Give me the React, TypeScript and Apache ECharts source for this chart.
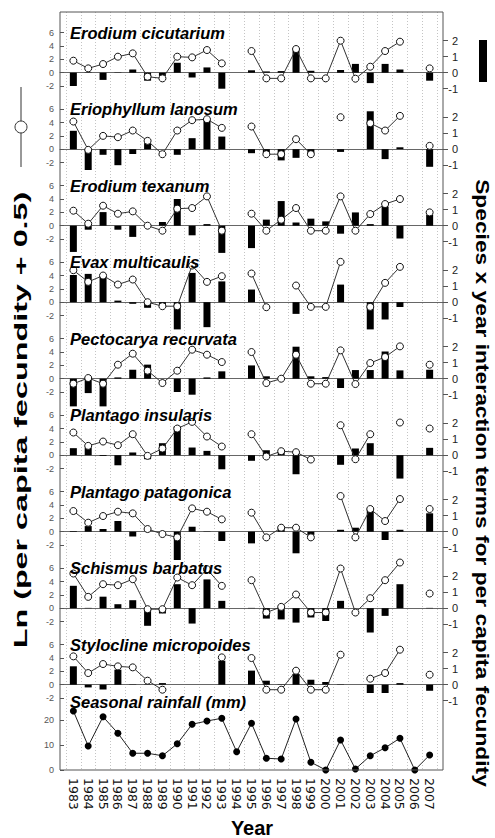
import React, { useEffect, useRef } from "react";
import * as echarts from "echarts";

const years = [1983, 1984, 1985, 1986, 1987, 1988, 1989, 1990, 1991, 1992, 1993, 1994, 1995, 1996, 1997, 1998, 1999, 2000, 2001, 2002, 2003, 2004, 2005, 2006, 2007];

const speciesNames = ["Erodium cicutarium", "Eriophyllum lanosum", "Erodium texanum", "Evax multicaulis", "Pectocarya recurvata", "Plantago insularis", "Plantago patagonica", "Schismus barbatus", "Stylocline micropoides"];

// Ln (per capita fecundity + 0.5), null = no data
const fecErodiumCicutarium = [1.8, 0.65, 1.3, 2.4, 2.9, -0.6, -0.85, 2.4, 2.3, 3.4, 1.4, null, 3.25, -0.85, -0.85, 3.55, -0.85, -0.85, 4.8, -0.9, 0.9, 3.25, 4.65, null, 0.65];
const fecEriophyllumLanosum = [4.15, -0.1, 2.0, 1.8, 2.8, 1.25, -0.75, 2.8, 4.35, 4.5, 3.2, null, 3.4, -0.75, -0.75, 1.5, -0.75, null, 4.8, null, 3.9, 2.8, 5.0, null, 0.5];
const fecErodiumTexanum = [2.25, 0.3, 3.0, 1.8, 2.15, 0, -0.75, 2.55, 2.65, 4.4, -0.75, null, 1.8, -0.75, 0.9, 2.65, -0.75, -0.75, 4.4, -0.75, 1.75, 3.25, 4.0, null, 2.0];
const fecEvaxMulticaulis = [4.8, 3.05, 4.0, 2.65, 3.4, 0, -0.6, -0.6, 5.5, 3.05, 3.9, null, 4.3, -0.75, null, 2.5, -0.7, -0.7, 6.05, null, -0.7, 2.9, 5.3, null, null];
const fecPectocaryaRecurvata = [-0.75, 0.1, -0.75, 2.1, 3.75, 1.2, -0.65, 1.2, 4.35, 3.6, 2.5, null, 4.0, -0.65, 0, 3.6, -0.75, -0.75, 4.25, -0.8, 2.35, 3.25, 4.85, null, 2.1];
const fecPlantagoInsularis = [3.4, 1.4, 2.05, 1.5, 3.15, -0.1, 1.0, 4.0, 5.0, 2.8, 1.3, null, 3.15, -0.2, 0.6, 0.45, -0.65, null, 4.5, -0.6, 3.15, null, 4.9, null, 4.0];
const fecPlantagoPatagonica = [3.1, 1.35, 2.35, 3.0, 2.75, 0.4, -0.35, -0.85, 3.5, 3.0, 1.85, null, 2.85, -0.85, 0.6, 0.6, -0.85, null, 5.35, -0.85, 3.4, 1.6, 4.9, null, 3.4];
const fecSchismusBarbatus = [5.2, 1.7, 3.6, 3.45, 4.35, -0.15, -0.15, 4.6, 3.45, 5.85, 3.35, null, 4.2, -0.65, 0.2, 2.05, -0.65, -0.65, 5.95, -0.65, 1.5, 4.2, 6.85, null, 2.2];
const fecStyloclineMicropoides = [4.25, 1.75, 3.1, 2.75, 2.6, 0.6, -0.75, null, null, null, 4.1, null, 4.0, -0.75, -0.75, 2.1, -0.75, -0.75, 4.5, null, 0.9, 1.75, 5.25, null, 1.5];

// Species x year interaction terms for per capita fecundity
const intErodiumCicutarium = [-0.83, 0.02, -0.45, 0.02, 0.2, -0.5, -0.2, 0.62, -0.3, 0.33, -1.0, null, 0.15, 0.08, 0.1, 1.4, 0.12, 0, 0.17, 0.55, -0.65, 0.55, 0.2, null, -0.5];
const intEriophyllumLanosum = [1.15, -1.3, -0.35, -1.0, -0.3, 0.38, 0, -0.35, 0.69, 1.83, 0.79, null, -0.25, -0.25, -0.7, -0.54, -0.25, null, -0.17, null, 2.37, -0.62, 0.12, null, -1.1];
const intErodiumTexanum = [-1.64, -0.25, 0.85, -0.25, -0.7, 0, 0.23, 1.67, -0.6, 0.1, -1.7, null, -1.4, 0.38, 1.54, 0.2, 0.44, 0.27, -0.5, 0.83, 0.1, 1.2, -0.8, null, 0.7];
const intEvaxMulticaulis = [1.7, 1.77, 1.63, 0.1, -0.1, -0.35, -0.2, -1.7, 1.83, -1.56, 1.3, null, 0.79, 0, 0, -0.73, 0, 0, 1.1, 0, -1.7, -1.08, -0.3, null, 0];
const intPectocaryaRecurvata = [-1.73, -0.9, -1.73, 0.08, 0.56, 0.88, 0, -0.83, -1.0, 0.08, 0.46, null, 0.83, 0.15, 0, 2.0, 0.15, 0.1, -0.58, 0.54, 0.54, 1.7, 0.52, null, 0.56];
const intPlantagoInsularis = [0.44, 0.48, -0.05, -0.63, 0.17, -0.25, 0.75, 1.8, 0.48, 0.27, -0.88, null, -0.35, 0.31, 0.2, -1.19, 0, null, -0.6, 0.42, 0.75, null, -1.46, null, 0.46];
const intPlantagoPatagonica = [0.04, 0.35, 0.17, 0.67, -0.3, 0, 0, -1.77, 0.31, 0.02, -0.58, null, -0.73, 0, 0.3, -1.35, -0.2, null, 0.12, 0.25, 1.4, -0.52, 0.12, null, 1.15];
const intSchismusBarbatus = [1.4, 0.02, 0.72, 0.25, 0.5, -1.1, -0.33, 1.5, -0.96, 1.8, 0.46, null, 0.02, -0.65, -0.7, -0.9, -0.58, -0.8, 0.46, 0, -1.52, -0.48, 1.5, null, 0.02];
const intStyloclineMicropoides = [1.15, -0.17, -0.3, 0.94, 0.02, 0.02, 0.1, 0, 0, 0, 1.5, null, 0.88, 0.25, 0.02, 0.67, 0.31, 0.17, 0.02, 0, -0.52, -0.52, 0.1, null, -0.38];

// Seasonal rainfall (mm)
const rainfall = [23.6, 9.6, 21.3, 14.7, 6.7, 6.7, 5.7, 10.5, 18.3, 19.6, 20.7, 7.3, 18.7, 4.7, 4.4, 20.4, 3.1, 0, 12, 0.4, 5.7, 8.9, 12.7, 0, 6];

const fecundity = [fecErodiumCicutarium, fecEriophyllumLanosum, fecErodiumTexanum, fecEvaxMulticaulis, fecPectocaryaRecurvata, fecPlantagoInsularis, fecPlantagoPatagonica, fecSchismusBarbatus, fecStyloclineMicropoides];
const interaction = [intErodiumCicutarium, intEriophyllumLanosum, intErodiumTexanum, intEvaxMulticaulis, intPectocaryaRecurvata, intPlantagoInsularis, intPlantagoPatagonica, intSchismusBarbatus, intStyloclineMicropoides];

const FONT = '"Liberation Sans", Arial, Helvetica, sans-serif';
const X_MIN = 1982.1;
const X_MAX = 2007.9;
const BOX_L = 60;
const BOX_T = 12;
const BOX_W = 383;
const BOX_H = 758;
const ZERO0 = 72.7;
const STEP = 76.5;
const LPX = 20 / 3;
const RPX = 16;
const RAIN_PX = 2.5;

function toPairs(vals: (number | null)[]) {
  return years.map((y, j) => [y, vals[j] === null ? "-" : vals[j]]);
}

function buildOption() {
  const pxYear = BOX_W / (X_MAX - X_MIN);
  const grids: any[] = [];
  const xAxes: any[] = [];
  const yAxes: any[] = [];
  const series: any[] = [];
  const graphics: any[] = [];

  // frame grid with year labels and dotted separators
  grids.push({ left: BOX_L + (1982.5 - X_MIN) * pxYear, width: 25 * pxYear, top: BOX_T, height: BOX_H });
  xAxes.push({
    gridIndex: 0, type: "category", data: years.map(String), boundaryGap: true,
    axisLine: { show: false }, axisTick: { show: false },
    axisLabel: { rotate: -90, fontSize: 12.5, fontFamily: "DejaVu Sans", color: "#111", margin: 8, interval: 0 },
    splitLine: { show: true, interval: 0, lineStyle: { color: "#c4c4c4", type: [1, 2], width: 1 } },
  });
  yAxes.push({ gridIndex: 0, type: "value", show: false, min: 0, max: 1 });

  speciesNames.forEach((name, i) => {
    const zero = ZERO0 + STEP * i;
    const gl = grids.length;
    grids.push({ left: BOX_L, width: BOX_W, top: zero - 6 * LPX, height: 8 * LPX });
    xAxes.push({ gridIndex: gl, type: "value", min: X_MIN, max: X_MAX, show: false });
    yAxes.push({
      gridIndex: gl, type: "value", min: -2, max: 6, interval: 2, position: "left",
      axisLine: { show: false },
      axisTick: { show: true, inside: true, length: 4, lineStyle: { color: "#555" } },
      axisLabel: { fontSize: 9, color: "#555", margin: 6, fontFamily: FONT },
      splitLine: { show: false },
    });
    const gr = grids.length;
    grids.push({ left: BOX_L, width: BOX_W, top: zero - 2 * RPX, height: 3 * RPX });
    xAxes.push({
      gridIndex: gr, type: "value", min: X_MIN, max: X_MAX,
      axisLine: { show: true, onZero: true, lineStyle: { color: "#666", width: 1 } },
      axisTick: { show: false }, axisLabel: { show: false }, splitLine: { show: false },
    });
    yAxes.push({
      gridIndex: gr, type: "value", min: -1, max: 2, interval: 1, position: "right",
      axisLine: { show: false },
      axisTick: { show: true, inside: false, length: 5, lineStyle: { color: "#555" } },
      axisLabel: { fontSize: 11, color: "#222", margin: 15, align: "right", fontFamily: FONT },
      splitLine: { show: false },
    });
    series.push({
      type: "bar", xAxisIndex: gr, yAxisIndex: gr, data: toPairs(interaction[i]),
      barWidth: 7, itemStyle: { color: "#000" }, clip: false, z: 2, silent: true,
    });
    series.push({
      type: "line", xAxisIndex: gl, yAxisIndex: gl, data: toPairs(fecundity[i]),
      symbol: "circle", symbolSize: 7, showSymbol: true, connectNulls: false, clip: false,
      itemStyle: { color: "#fff", borderColor: "#111", borderWidth: 1 },
      lineStyle: { color: "#333", width: 1 }, z: 5, silent: true,
    });
    graphics.push({
      type: "text", z: 50,
      style: {
        text: name, x: 70, y: zero - 40, fill: "#000",
        font: `italic bold 16.5px ${FONT}`,
        align: "left", verticalAlign: "middle", textAlign: "left", textVerticalAlign: "middle",
      },
    });
  });

  // rainfall panel
  const gi = grids.length;
  grids.push({ left: BOX_L, width: BOX_W, top: BOX_T + BOX_H - 30 * RAIN_PX, height: 30 * RAIN_PX });
  xAxes.push({ gridIndex: gi, type: "value", min: X_MIN, max: X_MAX, show: false });
  yAxes.push({
    gridIndex: gi, type: "value", min: 0, max: 30, interval: 10, position: "left",
    axisLine: { show: false },
    axisTick: { show: true, inside: true, length: 4, lineStyle: { color: "#555" } },
    axisLabel: { fontSize: 9, color: "#555", margin: 6, fontFamily: FONT, showMaxLabel: false },
    splitLine: { show: false },
  });
  series.push({
    type: "line", xAxisIndex: gi, yAxisIndex: gi, data: toPairs(rainfall),
    symbol: "circle", symbolSize: 7, clip: false,
    itemStyle: { color: "#000" }, lineStyle: { color: "#222", width: 1 }, z: 5, silent: true,
  });
  graphics.push({
    type: "text", z: 50,
    style: {
      text: "Seasonal rainfall (mm)", x: 70, y: 702, fill: "#000",
      font: `italic bold 16.5px ${FONT}`,
      align: "left", verticalAlign: "middle", textAlign: "left", textVerticalAlign: "middle",
    },
  });

  // frame
  graphics.push({
    type: "rect", z: 60, silent: true,
    shape: { x: BOX_L, y: BOX_T, width: BOX_W, height: BOX_H },
    style: { fill: "rgba(0,0,0,0)", stroke: "#555", lineWidth: 1 },
  });

  // axis titles
  graphics.push({
    type: "text", z: 50, x: 252, y: 828,
    style: {
      text: "Year", x: 0, y: 0, fill: "#000", font: `bold 20px ${FONT}`,
      align: "center", verticalAlign: "middle", textAlign: "center", textVerticalAlign: "middle",
    },
  });
  graphics.push({
    type: "text", z: 50, x: 21, y: 420, rotation: Math.PI / 2, scaleX: 1.7,
    style: {
      text: "Ln (per capita fecundity + 0.5)", x: 0, y: 0, fill: "#000", font: `bold 19px ${FONT}`,
      align: "center", verticalAlign: "middle", textAlign: "center", textVerticalAlign: "middle",
    },
  });
  graphics.push({
    type: "text", z: 50, x: 483, y: 483, rotation: -Math.PI / 2, scaleX: 1.2,
    style: {
      text: "Species x year interaction terms for per capita fecundity", x: 0, y: 0, fill: "#000", font: `bold 19px ${FONT}`,
      align: "center", verticalAlign: "middle", textAlign: "center", textVerticalAlign: "middle",
    },
  });
  // legend keys
  graphics.push({ type: "line", z: 50, shape: { x1: 21, y1: 87, x2: 21, y2: 167 }, style: { stroke: "#333", lineWidth: 1 } });
  graphics.push({ type: "circle", z: 51, shape: { cx: 21, cy: 127, r: 6 }, style: { fill: "#fff", stroke: "#333", lineWidth: 1 } });
  graphics.push({ type: "rect", z: 50, shape: { x: 479, y: 40, width: 8, height: 42 }, style: { fill: "#000" } });

  return {
    animation: false,
    backgroundColor: "#fff",
    grid: grids,
    xAxis: xAxes,
    yAxis: yAxes,
    series,
    graphic: graphics,
  };
}

export default function App() {
  const ref = useRef<HTMLDivElement>(null);
  useEffect(() => {
    if (!ref.current) return;
    const chart = echarts.init(ref.current, null, { renderer: "svg" });
    chart.setOption(buildOption() as any);
    return () => chart.dispose();
  }, []);
  return <div ref={ref} style={{ position: "fixed", left: 0, top: 0, width: 495, height: 838, background: "#fff" }} />;
}
